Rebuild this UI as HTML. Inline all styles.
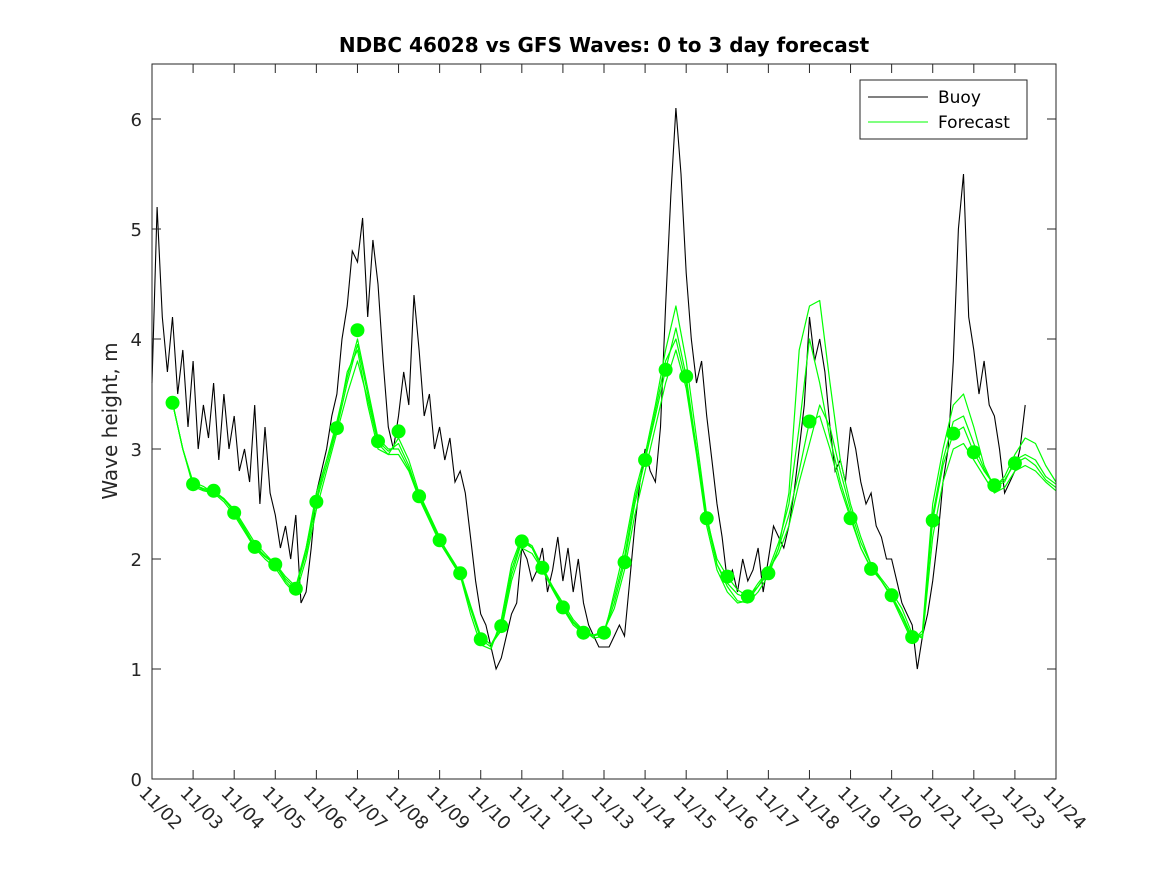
<!DOCTYPE html>
<html><head><meta charset="utf-8"><style>
body{margin:0;background:#fff}
svg{display:block;font-family:"DejaVu Sans","Liberation Sans",sans-serif}
</style></head><body>
<svg id="chart" width="1167" height="875">
<rect width="1167" height="875" fill="#fff"/>
<text x="604" y="52" text-anchor="middle" font-size="20" font-weight="bold">NDBC 46028 vs GFS Waves: 0 to 3 day forecast</text>
<text transform="translate(117,421) rotate(-90)" text-anchor="middle" font-size="20" fill="#262626">Wave height, m</text>
<g id="plot"></g>
<g id="axes"></g>
<g>
<rect x="860" y="80" width="167" height="59" fill="#fff" stroke="#262626" stroke-width="1"/>
<line x1="868" y1="97" x2="928" y2="97" stroke="#000" stroke-width="1"/>
<text x="938" y="103" font-size="17" fill="#000">Buoy</text>
<line x1="868" y1="122" x2="928" y2="122" stroke="#00ff00" stroke-width="1"/>
<text x="938" y="128" font-size="17" fill="#000">Forecast</text>
</g>
</svg>
<script>
const xTickLabels=["11/02","11/03","11/04","11/05","11/06","11/07","11/08","11/09","11/10","11/11","11/12","11/13","11/14","11/15","11/16","11/17","11/18","11/19","11/20","11/21","11/22","11/23","11/24"];
const yTicks=[0,1,2,3,4,5,6];
// buoy: 3-hourly from 11/02 00:00
const buoy=[3.6,5.2,4.2,3.7,4.2,3.5,3.9,3.2,
3.8,3.0,3.4,3.1,3.6,2.9,3.5,3.0,
3.3,2.8,3.0,2.7,3.4,2.5,3.2,2.6,
2.4,2.1,2.3,2.0,2.4,1.6,1.7,2.1,
2.6,2.8,3.0,3.3,3.5,4.0,4.3,4.8,
4.7,5.1,4.2,4.9,4.5,3.8,3.2,3.0,
3.3,3.7,3.4,4.4,3.9,3.3,3.5,3.0,
3.2,2.9,3.1,2.7,2.8,2.6,2.2,1.8,
1.5,1.4,1.2,1.0,1.1,1.3,1.5,1.6,
2.1,2.0,1.8,1.9,2.1,1.7,1.9,2.2,
1.8,2.1,1.7,2.0,1.6,1.4,1.3,1.2,
1.2,1.2,1.3,1.4,1.3,1.8,2.3,2.7,
3.0,2.8,2.7,3.2,4.3,5.3,6.1,5.5,
4.6,4.0,3.6,3.8,3.3,2.9,2.5,2.2,
1.8,1.9,1.7,2.0,1.8,1.9,2.1,1.7,
2.0,2.3,2.2,2.1,2.3,2.6,3.0,3.4,
4.2,3.8,4.0,3.7,3.2,2.8,2.9,2.7,
3.2,3.0,2.7,2.5,2.6,2.3,2.2,2.0,
2.0,1.8,1.6,1.5,1.4,1.0,1.3,1.5,
1.8,2.2,2.7,3.0,3.8,5.0,5.5,4.2,
3.9,3.5,3.8,3.4,3.3,3.0,2.6,2.7,
2.8,3.0,3.4];
// forecast runs: 6-hourly from 11/02 12:00
const forecastBase=[3.42,3.0,2.68,2.64,2.62,2.55,2.42,2.27,2.11,2.02,1.95,1.82,1.73,2.05,2.52,2.85,3.19,3.6,3.95,3.5,3.07,2.98,3.05,2.85,2.57,2.37,2.17,2.02,1.87,1.55,1.27,1.2,1.39,1.85,2.16,2.1,1.92,1.74,1.56,1.42,1.33,1.3,1.33,1.6,1.97,2.5,2.9,3.3,3.72,4.1,3.66,3.0,2.37,2.0,1.84,1.72,1.66,1.75,1.87,2.1,2.4,2.8,3.25,3.3,3.0,2.65,2.37,2.1,1.91,1.8,1.67,1.5,1.29,1.3,2.35,2.85,3.14,3.2,2.97,2.8,2.67,2.72,2.87,2.92,2.85,2.72,2.65];
const forecastHigh=[3.42,3.0,2.7,2.66,2.6,2.55,2.45,2.3,2.15,2.05,1.95,1.8,1.7,2.1,2.6,2.9,3.2,3.7,3.9,3.4,3.0,2.95,3.1,2.9,2.6,2.4,2.2,2.0,1.85,1.5,1.22,1.18,1.45,1.95,2.2,2.1,1.9,1.75,1.6,1.45,1.35,1.28,1.3,1.7,2.1,2.6,2.95,3.4,3.9,4.3,3.8,3.1,2.4,1.95,1.75,1.62,1.6,1.7,1.85,2.1,2.6,3.9,4.3,4.35,3.6,2.9,2.5,2.2,1.95,1.8,1.65,1.45,1.25,1.35,2.5,3.0,3.4,3.5,3.2,2.85,2.65,2.75,2.95,3.1,3.05,2.85,2.7];
const forecastLow=[3.42,3.0,2.66,2.62,2.6,2.52,2.4,2.25,2.1,2.0,1.92,1.78,1.68,2.0,2.45,2.8,3.15,3.5,3.8,3.45,3.05,2.95,2.95,2.8,2.55,2.35,2.15,2.0,1.85,1.55,1.3,1.22,1.35,1.8,2.1,2.05,1.9,1.72,1.55,1.4,1.32,1.3,1.35,1.55,1.9,2.4,2.8,3.2,3.6,3.9,3.55,2.95,2.3,1.9,1.7,1.6,1.62,1.75,1.9,2.05,2.3,2.7,3.05,3.4,3.2,2.8,2.45,2.15,1.95,1.82,1.7,1.55,1.32,1.28,2.2,2.7,3.0,3.05,2.9,2.75,2.6,2.65,2.8,2.85,2.8,2.7,2.62];
const forecastMid=[3.42,3.0,2.68,2.63,2.61,2.54,2.43,2.28,2.12,2.03,1.96,1.84,1.75,2.1,2.55,2.9,3.25,3.65,4.0,3.55,3.1,3.0,3.0,2.82,2.58,2.38,2.18,2.03,1.88,1.58,1.3,1.22,1.4,1.9,2.18,2.12,1.93,1.75,1.57,1.43,1.34,1.31,1.34,1.65,2.02,2.55,2.9,3.35,3.8,4.0,3.6,3.0,2.35,1.95,1.78,1.68,1.64,1.78,1.9,2.15,2.5,3.2,4.0,3.6,3.1,2.7,2.4,2.1,1.92,1.8,1.66,1.48,1.27,1.32,2.4,2.9,3.25,3.3,3.05,2.82,2.66,2.7,2.9,2.95,2.9,2.75,2.68];
// analysis dots every 12h from 11/02 12:00 (null = none)
const dots=[3.42,2.68,2.62,2.42,2.11,1.95,1.73,2.52,3.19,4.08,3.07,3.16,2.57,2.17,1.87,1.27,1.39,2.16,1.92,1.56,1.33,1.33,1.97,2.9,3.72,3.66,2.37,1.84,1.66,1.87,null,3.25,null,2.37,1.91,1.67,1.29,2.35,3.14,2.97,2.67,2.87];

const X0=152,X1=1056,Y0=779,Y1=64,NDAYS=22,YMAX=6.5;
const xs=d=>X0+(X1-X0)*d/NDAYS;
const ys=v=>Y0-(Y0-Y1)*v/YMAX;
const NS="http://www.w3.org/2000/svg";
const plot=document.getElementById('plot'),axes=document.getElementById('axes');
function mk(tag,attrs,parent){const e=document.createElementNS(NS,tag);for(const k in attrs)e.setAttribute(k,attrs[k]);parent.appendChild(e);return e;}

let d='';buoy.forEach((v,i)=>{d+=(i?'L':'M')+xs(i*0.125).toFixed(1)+','+ys(v).toFixed(1);});
const bl=mk('path',{d:d,fill:'none',stroke:'#000','stroke-width':1.1},plot);



[forecastHigh,forecastLow,forecastMid,forecastBase].forEach((arr,k)=>{
  let p='';arr.forEach((v,i)=>{p+=(i?'L':'M')+xs(0.5+i*0.25).toFixed(1)+','+ys(v).toFixed(1);});
  const fl=mk('path',{d:p,fill:'none',stroke:'#00ff00','stroke-width':1.2,'stroke-linejoin':'round'},plot);
  
  
});
dots.forEach((v,i)=>{if(v==null)return;
  const c=mk('circle',{cx:xs(0.5+i*0.5),cy:ys(v),r:7,fill:'#00ff00'},plot);
  
  
});

const fr=mk('rect',{x:X0,y:Y1,width:X1-X0,height:Y0-Y1,fill:'none',stroke:'#262626','stroke-width':1},axes);


yTicks.forEach(v=>{
  const y=ys(v);
  mk('line',{x1:X0,y1:y,x2:X0+9,y2:y,stroke:'#262626'},axes);
  mk('line',{x1:X1,y1:y,x2:X1-9,y2:y,stroke:'#262626'},axes);
  const t=mk('text',{x:X0-10,y:y+7,'text-anchor':'end','font-size':18,fill:'#262626'},axes);
  t.textContent=v;
  
  
});
xTickLabels.forEach((lab,i)=>{
  const x=xs(i);
  mk('line',{x1:x,y1:Y0,x2:x,y2:Y0-9,stroke:'#262626'},axes);
  mk('line',{x1:x,y1:Y1,x2:x,y2:Y1+9,stroke:'#262626'},axes);
  const t=mk('text',{transform:'translate('+(x-14)+','+(Y0+15)+') rotate(45)','font-size':18,fill:'#262626'},axes);
  t.textContent=lab;
  
  
});
</script>
</body></html>
